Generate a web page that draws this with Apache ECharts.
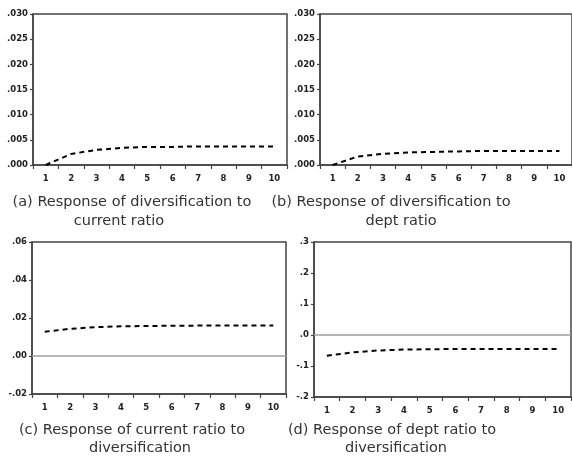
<!DOCTYPE html>
<html>
<head>
<meta charset="utf-8">
<script src="https://cdn.jsdelivr.net/npm/echarts@6/dist/echarts.min.js"></script>
<style>
html,body{margin:0;padding:0;background:#fff;}
#chart{width:572px;height:460px;}
</style>
</head>
<body>
<div id="chart"></div>
<script>
// ---- data ----
var periods = ['1','2','3','4','5','6','7','8','9','10'];
var respA = [0.0000, 0.0022, 0.0030, 0.0034, 0.0036, 0.0036, 0.0037, 0.0037, 0.0037, 0.0037];
var respB = [0.0000, 0.0017, 0.0022, 0.0025, 0.0026, 0.0027, 0.0028, 0.0028, 0.0028, 0.0028];
var respC = [0.0128, 0.0143, 0.0152, 0.0156, 0.0158, 0.0159, 0.0160, 0.0160, 0.0161, 0.0161];
var respD = [-0.067, -0.056, -0.050, -0.047, -0.046, -0.045, -0.045, -0.045, -0.045, -0.045];
var yRangeA = [0, 0.03, 0.005];
var yRangeB = [0, 0.03, 0.005];
var yRangeC = [-0.02, 0.06, 0.02];
var yRangeD = [-0.2, 0.3, 0.1];
var captionsA = ['(a) Response of diversification to', 'current ratio'];
var captionsB = ['(b) Response of diversification to', 'dept ratio'];
var captionsC = ['(c) Response of current ratio to', 'diversification'];
var captionsD = ['(d) Response of dept ratio to', 'diversification'];

// ---- layout ----
var grids = [
  {left:33, top:14, width:254, height:151},
  {left:320, top:14, width:254, height:151},
  {left:32, top:242, width:254, height:152},
  {left:314, top:242, width:257, height:155}
];
var ranges = [yRangeA, yRangeB, yRangeC, yRangeD];
var decimals = [3, 3, 2, 1];
var seriesData = [respA, respB, respC, respD];
var zeroLine = [false, false, true, true];

function fmt(d){
  return function(v){
    var s = Number(v).toFixed(d);
    return s.replace('0.', '.');
  };
}

var axisColor = '#444';
var tickFont = 'DejaVu Sans';
var option = {
  backgroundColor:'#fff',
  animation:false,
  grid: grids.map(function(g){
    return {left:g.left, top:g.top, width:g.width, height:g.height, show:true,
            borderColor:axisColor, borderWidth:1.5, backgroundColor:'transparent', containLabel:false};
  }),
  xAxis: grids.map(function(g,i){
    return {
      type:'category', gridIndex:i, data:periods, boundaryGap:true,
      axisLine:{show:true, onZero:false, lineStyle:{color:axisColor, width:1.5}},
      axisTick:{show:true, length:4, lineStyle:{color:axisColor, width:1.2}},
      axisLabel:{margin:9, fontSize:8.5, fontWeight:'bold', color:'#222', fontFamily:tickFont},
      splitLine:{show:false}
    };
  }),
  yAxis: grids.map(function(g,i){
    return {
      type:'value', gridIndex:i, min:ranges[i][0], max:ranges[i][1], interval:ranges[i][2],
      axisLine:{show:true, onZero:false, lineStyle:{color:axisColor, width:1.5}},
      axisTick:{show:true, length:3, lineStyle:{color:axisColor, width:1.2}},
      axisLabel:{margin:5, fontSize:8.5, fontWeight:'bold', color:'#222', fontFamily:tickFont, formatter:fmt(decimals[i])},
      splitLine:{show:false}
    };
  }),
  series: seriesData.map(function(d,i){
    var s = {
      type:'line', xAxisIndex:i, yAxisIndex:i, data:d, symbol:'none', clip:false,
      lineStyle:{color:'#000', width:2, type:[5,4]}, z:3
    };
    if (zeroLine[i]) {
      s.markLine = {silent:true, symbol:'none', animation:false,
        label:{show:false},
        lineStyle:{color:'#a0a0a0', type:'solid', width:1.5},
        data:[{yAxis:0}]};
    }
    return s;
  }),
  graphic: []
};

var capPos = [
  {c1:132, c2:119, y1:202, y2:221, t:captionsA},
  {c1:391, c2:401, y1:202, y2:221, t:captionsB},
  {c1:132, c2:140, y1:430, y2:448, t:captionsC},
  {c1:392, c2:396, y1:430, y2:448, t:captionsD}
];
var capFont = '14.5px "DejaVu Sans"';
capPos.forEach(function(c){
  option.graphic.push({type:'text', x:c.c1, y:c.y1, style:{text:c.t[0], font:capFont, fill:'#333', align:'center', verticalAlign:'middle'}});
  option.graphic.push({type:'text', x:c.c2, y:c.y2, style:{text:c.t[1], font:capFont, fill:'#333', align:'center', verticalAlign:'middle'}});
});

var chart = echarts.init(document.getElementById('chart'), null, {renderer:'canvas'});
chart.setOption(option);
</script>
</body>
</html>
